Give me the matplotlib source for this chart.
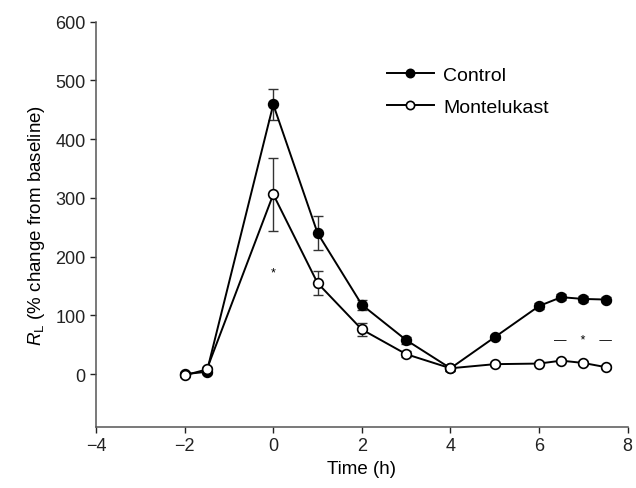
import matplotlib.pyplot as plt

plt.rcParams['font.family'] = ['Liberation Sans', 'DejaVu Sans']
plt.rcParams['mathtext.fontset'] = 'custom'
plt.rcParams['mathtext.rm'] = 'Liberation Sans'
plt.rcParams['mathtext.it'] = 'Liberation Sans:italic'

time = [-2, -1.5, 0, 1, 2, 3, 4, 5, 6, 6.5, 7, 7.5]
control = [0, 4, 459, 240, 118, 58, 10, 63, 116, 131, 128, 127]
control_err = [3, 4, 27, 29, 8, 6, 4, 4, 5, 5, 5, 5]
montelukast = [-2, 8, 306, 155, 76, 34, 10, 17, 18, 23, 19, 12]
montelukast_err = [3, 4, 62, 20, 11, 5, 4, 3, 3, 3, 3, 3]

xticks = [-4, -2, 0, 2, 4, 6, 8]
yticks = [0, 100, 200, 300, 400, 500, 600]

fig = plt.figure(figsize=(6.36, 4.89), dpi=100)
ax = fig.add_axes([0.151, 0.1247, 0.836, 0.829])

err_kw = dict(fmt='none', ecolor='#333333', capsize=3.5, elinewidth=1.0,
              capthick=1.0)
ax.errorbar(time, control, yerr=control_err, zorder=1, **err_kw)
ax.errorbar(time, montelukast, yerr=montelukast_err, zorder=1, **err_kw)
ax.plot(time, control, '-o', color='black', lw=1.4, ms=7, mfc='black',
        mec='black', mew=1.2, label='Control', zorder=2)
ax.plot(time, montelukast, '-o', color='black', lw=1.4, ms=7, mfc='white',
        mec='black', mew=1.2, label='Montelukast', zorder=3)

ax.text(0, 173, '*', ha='center', va='center', fontsize=9)
ax.text(7.0, 58, '—    *    —', ha='center', va='center', fontsize=9)

ax.set_xlim(-4, 8)
ax.set_ylim(-90, 600)
ax.set_xticks(xticks)
ax.set_yticks(yticks)
ax.set_xticklabels(['\u2212' + str(-t) if t < 0 else str(t) for t in xticks])
ax.tick_params(direction='out', length=4, width=1, labelsize=13,
               colors='#222222')
for s in ['top', 'right']:
    ax.spines[s].set_visible(False)
for s in ['left', 'bottom']:
    ax.spines[s].set_color('#555555')
    ax.spines[s].set_linewidth(1.1)

ax.set_xlabel('Time (h)', fontsize=13.5, labelpad=4)
ax.set_ylabel(r'$R_\mathrm{L}$ (% change from baseline)', fontsize=13.5,
              labelpad=6)

ax.legend(loc='upper left', bbox_to_anchor=(0.547, 0.89), frameon=False,
          fontsize=14, handlelength=2.4, handletextpad=0.5, markerscale=0.85,
          labelspacing=0.75, borderpad=0, borderaxespad=0)

fig.savefig('out.png', dpi=100)
